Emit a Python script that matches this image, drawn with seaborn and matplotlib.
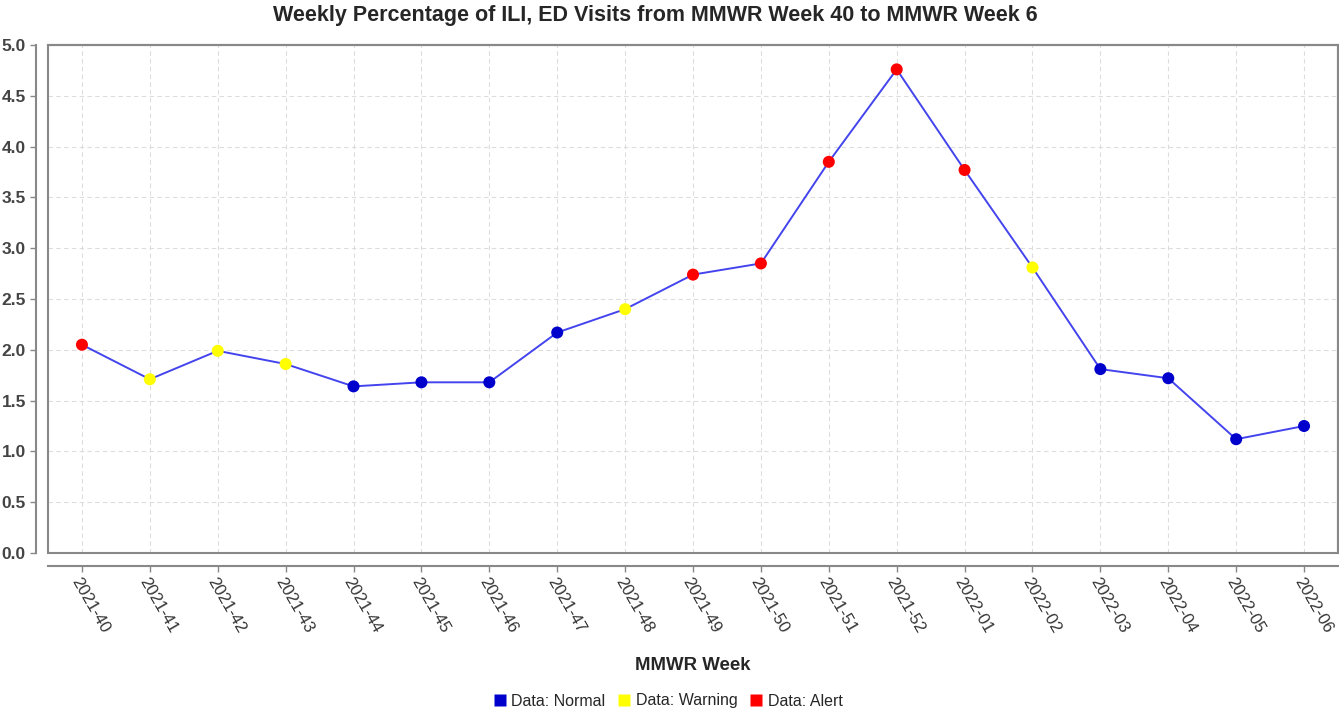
import matplotlib.pyplot as plt
import pandas as pd
import seaborn as sns
from matplotlib.lines import Line2D
from matplotlib.patches import Rectangle

# weekly ILI percentage of ED visits
weeks = ['2021-40', '2021-41', '2021-42', '2021-43', '2021-44', '2021-45', '2021-46',
         '2021-47', '2021-48', '2021-49', '2021-50', '2021-51', '2021-52',
         '2022-01', '2022-02', '2022-03', '2022-04', '2022-05', '2022-06']
ili_pct = [2.05, 1.71, 1.99, 1.86, 1.64, 1.68, 1.68, 2.17, 2.40, 2.74,
           2.85, 3.85, 4.76, 3.77, 2.81, 1.81, 1.72, 1.12, 1.25]
status = ['Alert', 'Warning', 'Warning', 'Warning', 'Normal', 'Normal', 'Normal',
          'Normal', 'Warning', 'Alert', 'Alert', 'Alert', 'Alert', 'Alert',
          'Warning', 'Normal', 'Normal', 'Normal', 'Normal']
status_order = ['Normal', 'Warning', 'Alert']
status_colors = {'Normal': '#0000cc', 'Warning': '#ffff00', 'Alert': '#ff0000'}

df = pd.DataFrame({'week': weeks, 'pct': ili_pct, 'status': status})
df['pos'] = range(len(df))

sns.set_theme(style='ticks')
plt.rcParams['font.family'] = ['Liberation Sans', 'DejaVu Sans']

fig = plt.figure(figsize=(13.39, 7.15), dpi=100)
ax = fig.add_axes([48 / 1339, 1 - 553 / 715, 1290 / 1339, 508 / 715])

sns.lineplot(data=df, x='pos', y='pct', color='#4444ee', linewidth=1.4, sort=False, ax=ax)
sns.scatterplot(data=df, x='pos', y='pct', hue='status', hue_order=status_order,
                palette=status_colors, s=75, edgecolor='none', legend=False, ax=ax, zorder=3)

# frame + offset axis lines (spine offset resets ticks, so do it first)
for side in ['left', 'bottom']:
    ax.spines[side].set_position(('outward', 9))
for side in ax.spines:
    ax.spines[side].set_color('#888888')
    ax.spines[side].set_linewidth(1.5)
ax.add_patch(Rectangle((0, 0), 1, 1, transform=ax.transAxes, fill=False,
                       edgecolor='#888888', linewidth=1.5, clip_on=False, zorder=5))

ax.grid(True, linestyle=(0, (4, 3)), color='#dddddd', linewidth=0.8)
ax.tick_params(axis='both', direction='out', length=4, width=1, color='#888888')
ax.tick_params(axis='x', pad=3)
ax.tick_params(axis='y', pad=3)

ax.set_xlim(-0.5, len(weeks) - 0.5)
ax.set_ylim(0, 5)
ax.set_yticks([i * 0.5 for i in range(11)])
ax.set_yticklabels([f'{i * 0.5:.1f}' for i in range(11)])
ax.set_xticks(range(len(weeks)))
ax.set_xticklabels(weeks)
for lab in ax.get_yticklabels():
    lab.set(fontsize=12.5, fontweight='bold', color='#444444')
for lab in ax.get_xticklabels():
    lab.set(rotation=-60, ha='left', va='top', rotation_mode='anchor',
            fontsize=12, color='#333333')
ax.set_xlabel('')
ax.set_ylabel('')

fig.suptitle('Weekly Percentage of ILI, ED Visits from MMWR Week 40 to MMWR Week 6',
             x=655 / 1339, y=1 - 15 / 715, va='center', fontsize=15.5, fontweight='bold')
fig.text(693 / 1339, 1 - 665 / 715, 'MMWR Week', ha='center', va='center',
         fontsize=13.4, fontweight='bold')

handles = [Line2D([], [], marker='s', linestyle='none', markersize=8,
                  markerfacecolor=status_colors[k], markeredgecolor='none')
           for k in status_order]
fig.legend(handles, ['Data: ' + k for k in status_order], loc='center',
           bbox_to_anchor=(668 / 1339, 1 - 701 / 715), ncol=3, frameon=False,
           fontsize=11.5, handlelength=0.8, handletextpad=0.3, columnspacing=0.8)

fig.savefig('out.png', dpi=100)
